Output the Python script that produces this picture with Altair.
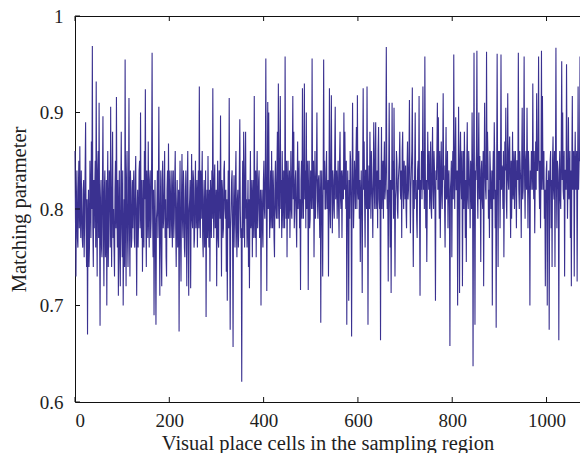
import altair as alt
import numpy as np
import pandas as pd

# Matching parameter.
# match_even: values at even sample positions (spikes / extremes), match_odd: the in-between samples
match_even = [
    0.86, 0.73, 0.84, 0.76, 0.85, 0.865, 0.77, 0.80, 0.76, 0.83, 0.79, 0.89, 0.74, 0.67, 0.82, 0.76, 0.81, 0.87, 0.969, 0.74,
    0.78, 0.85, 0.932, 0.73, 0.86, 0.91, 0.679, 0.83, 0.75, 0.896, 0.72, 0.84, 0.77, 0.70, 0.86, 0.79, 0.83, 0.906, 0.74, 0.88,
    0.80, 0.73, 0.85, 0.916, 0.76, 0.71, 0.84, 0.72, 0.88, 0.75, 0.70, 0.81, 0.955, 0.72, 0.86, 0.74, 0.915, 0.73, 0.82, 0.77,
    0.78, 0.84, 0.76, 0.855, 0.71, 0.82, 0.79, 0.85, 0.90, 0.77, 0.735, 0.83, 0.86, 0.924, 0.74, 0.81, 0.87, 0.76, 0.84, 0.79,
    0.962, 0.75, 0.69, 0.83, 0.68, 0.80, 0.77, 0.906, 0.71, 0.84, 0.72, 0.85, 0.79, 0.86, 0.81, 0.73, 0.84, 0.868, 0.77, 0.82,
    0.80, 0.76, 0.84, 0.79, 0.86, 0.74, 0.83, 0.78, 0.673, 0.85, 0.725, 0.857, 0.77, 0.82, 0.75, 0.84, 0.72, 0.86, 0.71, 0.81,
    0.718, 0.857, 0.78, 0.83, 0.77, 0.85, 0.80, 0.76, 0.84, 0.927, 0.77, 0.79, 0.86, 0.75, 0.83, 0.78, 0.688, 0.82, 0.855, 0.76,
    0.725, 0.81, 0.84, 0.925, 0.77, 0.846, 0.79, 0.72, 0.85, 0.76, 0.83, 0.897, 0.73, 0.82, 0.78, 0.85, 0.79, 0.735, 0.705, 0.84,
    0.915, 0.675, 0.80, 0.84, 0.657, 0.835, 0.76, 0.86, 0.75, 0.82, 0.78, 0.893, 0.77, 0.621, 0.85, 0.88, 0.76, 0.88, 0.81, 0.79,
    0.74, 0.718, 0.86, 0.79, 0.75, 0.83, 0.917, 0.77, 0.75, 0.86, 0.80, 0.84, 0.78, 0.70, 0.82, 0.76, 0.85, 0.79, 0.956, 0.715,
    0.911, 0.90, 0.77, 0.84, 0.86, 0.78, 0.82, 0.75, 0.85, 0.79, 0.88, 0.93, 0.78, 0.917, 0.83, 0.86, 0.78, 0.82, 0.958, 0.79,
    0.75, 0.85, 0.82, 0.77, 0.86, 0.79, 0.917, 0.88, 0.80, 0.84, 0.76, 0.87, 0.82, 0.78, 0.716, 0.85, 0.925, 0.79, 0.93, 0.84,
    0.90, 0.82, 0.716, 0.85, 0.79, 0.83, 0.956, 0.80, 0.75, 0.86, 0.82, 0.90, 0.79, 0.835, 0.77, 0.682, 0.84, 0.73, 0.955, 0.85,
    0.80, 0.86, 0.81, 0.73, 0.925, 0.78, 0.918, 0.775, 0.83, 0.79, 0.906, 0.82, 0.79, 0.85, 0.77, 0.88, 0.80, 0.77, 0.84, 0.90,
    0.88, 0.80, 0.68, 0.84, 0.705, 0.79, 0.85, 0.668, 0.91, 0.78, 0.85, 0.80, 0.885, 0.918, 0.81, 0.79, 0.745, 0.84, 0.713, 0.925,
    0.87, 0.76, 0.84, 0.927, 0.68, 0.845, 0.88, 0.79, 0.83, 0.77, 0.89, 0.80, 0.89, 0.82, 0.78, 0.885, 0.80, 0.664, 0.885, 0.83,
    0.79, 0.87, 0.82, 0.968, 0.80, 0.725, 0.91, 0.76, 0.713, 0.91, 0.85, 0.905, 0.73, 0.82, 0.85, 0.79, 0.84, 0.88, 0.81, 0.77,
    0.88, 0.80, 0.83, 0.845, 0.78, 0.87, 0.82, 0.913, 0.775, 0.84, 0.926, 0.74, 0.80, 0.90, 0.83, 0.77, 0.85, 0.917, 0.71, 0.82,
    0.81, 0.927, 0.86, 0.958, 0.78, 0.745, 0.88, 0.82, 0.80, 0.87, 0.79, 0.885, 0.80, 0.84, 0.705, 0.83, 0.91, 0.895, 0.79, 0.77,
    0.87, 0.80, 0.92, 0.845, 0.76, 0.885, 0.82, 0.78, 0.84, 0.658, 0.83, 0.75, 0.86, 0.96, 0.80, 0.895, 0.82, 0.70, 0.906, 0.713,
    0.88, 0.81, 0.72, 0.86, 0.88, 0.77, 0.745, 0.89, 0.80, 0.84, 0.78, 0.83, 0.90, 0.637, 0.962, 0.68, 0.83, 0.964, 0.79, 0.90,
    0.855, 0.745, 0.85, 0.80, 0.72, 0.91, 0.82, 0.963, 0.88, 0.79, 0.77, 0.84, 0.81, 0.70, 0.86, 0.89, 0.78, 0.677, 0.961, 0.74,
    0.83, 0.78, 0.96, 0.845, 0.80, 0.75, 0.87, 0.905, 0.79, 0.92, 0.82, 0.875, 0.77, 0.79, 0.88, 0.82, 0.80, 0.86, 0.78, 0.85,
    0.962, 0.80, 0.84, 0.77, 0.905, 0.82, 0.958, 0.79, 0.86, 0.905, 0.78, 0.84, 0.70, 0.82, 0.85, 0.93, 0.81, 0.775, 0.87, 0.92,
    0.84, 0.958, 0.80, 0.78, 0.964, 0.917, 0.82, 0.79, 0.72, 0.84, 0.70, 0.81, 0.675, 0.85, 0.78, 0.74, 0.875, 0.81, 0.74, 0.967,
    0.78, 0.84, 0.664, 0.86, 0.80, 0.953, 0.90, 0.81, 0.73, 0.84, 0.95, 0.79, 0.895, 0.82, 0.77, 0.72, 0.917, 0.84, 0.73, 0.88,
    0.84, 0.725, 0.927, 0.85, 0.958, 0.666, 0.905, 0.83, 0.90, 0.80, 0.86, 0.94, 0.88, 0.79, 0.85, 0.82, 0.87, 0.80, 0.84, 0.81,
]
match_odd = [
    0.79, 0.81, 0.77, 0.82, 0.78, 0.80, 0.84, 0.77, 0.82, 0.75, 0.84, 0.78, 0.81, 0.79, 0.74, 0.85, 0.77, 0.80, 0.78, 0.83,
    0.82, 0.76, 0.80, 0.84, 0.77, 0.79, 0.81, 0.76, 0.83, 0.78, 0.82, 0.75, 0.83, 0.81, 0.74, 0.84, 0.76, 0.79, 0.82, 0.77,
    0.76, 0.82, 0.78, 0.80, 0.83, 0.79, 0.75, 0.82, 0.78, 0.84, 0.77, 0.74, 0.80, 0.83, 0.77, 0.81, 0.78, 0.84, 0.76, 0.83,
    0.82, 0.77, 0.83, 0.78, 0.80, 0.76, 0.84, 0.78, 0.80, 0.83, 0.79, 0.76, 0.81, 0.79, 0.84, 0.77, 0.80, 0.83, 0.77, 0.85,
    0.80, 0.82, 0.78, 0.76, 0.79, 0.84, 0.81, 0.79, 0.80, 0.76, 0.83, 0.78, 0.82, 0.77, 0.75, 0.82, 0.78, 0.80, 0.84, 0.77,
    0.84, 0.81, 0.77, 0.83, 0.78, 0.80, 0.76, 0.82, 0.80, 0.77, 0.81, 0.79, 0.84, 0.76, 0.81, 0.78, 0.83, 0.77, 0.80, 0.83,
    0.80, 0.79, 0.84, 0.76, 0.82, 0.78, 0.83, 0.81, 0.78, 0.80, 0.84, 0.82, 0.77, 0.81, 0.76, 0.84, 0.80, 0.77, 0.79, 0.82,
    0.83, 0.77, 0.79, 0.81, 0.83, 0.78, 0.82, 0.80, 0.77, 0.84, 0.79, 0.80, 0.83, 0.77, 0.84, 0.80, 0.82, 0.81, 0.79, 0.78,
    0.79, 0.78, 0.83, 0.77, 0.80, 0.79, 0.83, 0.78, 0.81, 0.76, 0.84, 0.80, 0.78, 0.80, 0.77, 0.81, 0.84, 0.79, 0.76, 0.83,
    0.81, 0.80, 0.78, 0.83, 0.81, 0.77, 0.80, 0.84, 0.82, 0.78, 0.83, 0.77, 0.82, 0.80, 0.78, 0.83, 0.80, 0.84, 0.81, 0.82,
    0.80, 0.82, 0.81, 0.78, 0.80, 0.84, 0.77, 0.83, 0.80, 0.84, 0.79, 0.82, 0.85, 0.80, 0.77, 0.81, 0.84, 0.78, 0.82, 0.85,
    0.82, 0.79, 0.84, 0.81, 0.80, 0.85, 0.81, 0.78, 0.83, 0.79, 0.82, 0.80, 0.85, 0.81, 0.83, 0.79, 0.82, 0.84, 0.81, 0.78,
    0.80, 0.85, 0.81, 0.78, 0.84, 0.80, 0.82, 0.85, 0.81, 0.79, 0.84, 0.81, 0.83, 0.80, 0.84, 0.81, 0.79, 0.83, 0.82, 0.80,
    0.84, 0.80, 0.83, 0.82, 0.80, 0.85, 0.82, 0.84, 0.80, 0.86, 0.81, 0.84, 0.82, 0.80, 0.85, 0.81, 0.84, 0.83, 0.81, 0.82,
    0.83, 0.85, 0.81, 0.79, 0.83, 0.86, 0.80, 0.82, 0.84, 0.81, 0.83, 0.85, 0.80, 0.82, 0.86, 0.83, 0.81, 0.80, 0.84, 0.82,
    0.81, 0.84, 0.80, 0.83, 0.82, 0.80, 0.84, 0.86, 0.81, 0.84, 0.82, 0.86, 0.80, 0.84, 0.86, 0.81, 0.83, 0.82, 0.80, 0.85,
    0.84, 0.81, 0.85, 0.83, 0.82, 0.84, 0.81, 0.83, 0.80, 0.82, 0.79, 0.83, 0.81, 0.86, 0.80, 0.83, 0.85, 0.82, 0.84, 0.86,
    0.82, 0.85, 0.81, 0.80, 0.84, 0.81, 0.85, 0.83, 0.82, 0.86, 0.81, 0.83, 0.85, 0.81, 0.79, 0.84, 0.82, 0.80, 0.83, 0.86,
    0.85, 0.82, 0.80, 0.84, 0.83, 0.81, 0.84, 0.86, 0.82, 0.80, 0.85, 0.82, 0.86, 0.81, 0.84, 0.86, 0.82, 0.83, 0.86, 0.82,
    0.82, 0.85, 0.83, 0.80, 0.84, 0.81, 0.86, 0.83, 0.80, 0.82, 0.85, 0.83, 0.81, 0.84, 0.86, 0.82, 0.84, 0.81, 0.83, 0.85,
    0.83, 0.86, 0.82, 0.80, 0.84, 0.83, 0.85, 0.81, 0.86, 0.82, 0.85, 0.80, 0.84, 0.82, 0.81, 0.84, 0.86, 0.82, 0.85, 0.81,
    0.82, 0.84, 0.81, 0.86, 0.83, 0.84, 0.81, 0.83, 0.85, 0.82, 0.86, 0.80, 0.84, 0.83, 0.81, 0.85, 0.82, 0.84, 0.83, 0.86,
    0.86, 0.83, 0.82, 0.84, 0.86, 0.82, 0.84, 0.81, 0.85, 0.83, 0.86, 0.82, 0.85, 0.83, 0.81, 0.86, 0.84, 0.82, 0.85, 0.83,
    0.82, 0.86, 0.83, 0.85, 0.81, 0.86, 0.83, 0.85, 0.82, 0.84, 0.86, 0.81, 0.84, 0.86, 0.82, 0.84, 0.86, 0.83, 0.82, 0.84,
    0.86, 0.83, 0.85, 0.84, 0.82, 0.84, 0.86, 0.82, 0.81, 0.85, 0.83, 0.84, 0.82, 0.86, 0.83, 0.85, 0.82, 0.86, 0.84, 0.83,
    0.85, 0.82, 0.84, 0.81, 0.86, 0.83, 0.82, 0.86, 0.84, 0.82, 0.85, 0.83, 0.81, 0.86, 0.84, 0.85, 0.82, 0.86, 0.84, 0.82,
    0.86, 0.83, 0.82, 0.85, 0.84, 0.82, 0.86, 0.84, 0.82, 0.85, 0.83, 0.84, 0.86, 0.83, 0.81, 0.85, 0.83, 0.86, 0.82, 0.84,
]
cell_step = 2.044
even_cells = np.arange(len(match_even)) * cell_step
odd_cells = even_cells[: len(match_odd)] + cell_step / 2

x_ticks = [0, 200, 400, 600, 800, 1000]
y_ticks = [0.6, 0.7, 0.8, 0.9, 1.0]
x_title = "Visual place cells in the sampling region"
y_title = "Matching parameter"

W, H = 505, 386          # plot area; the chart ends at the window edge
X_MAX = 1071             # last visible cell at this width
FONT = "Liberation Serif"
INK = "#111111"
LINE = "#3a3190"

xs = alt.Scale(domain=[0, X_MAX], nice=False, zero=False)
ys = alt.Scale(domain=[0.6, 1.0], nice=False, zero=False)

xaxis = alt.Axis(
    values=x_ticks, format="d", title=x_title, ticks=False, domain=False,
    grid=False, labelPadding=9, titlePadding=3)
yaxis = alt.Axis(
    values=y_ticks, format="~g", title=y_title, ticks=False, domain=False,
    grid=False, labelPadding=12, titlePadding=10)

df = pd.DataFrame({
    "cell": np.concatenate([even_cells, odd_cells]),
    "match": np.concatenate([match_even, match_odd]),
}).sort_values("cell")
df = df[df["cell"] <= X_MAX + 3]
xt = pd.DataFrame({"xt": x_ticks})
yt = pd.DataFrame({"yt": y_ticks})

line = alt.Chart(df).mark_line(color=LINE, strokeWidth=1.1).encode(
    x=alt.X("cell:Q", scale=xs, axis=xaxis),
    y=alt.Y("match:Q", scale=ys, axis=yaxis),
    order="cell:Q")

# inward tick marks
bottom_ticks = alt.Chart(xt).mark_tick(
    color=INK, orient="vertical", size=5, thickness=1, opacity=1).encode(
    x=alt.X("xt:Q", scale=xs, axis=None), y=alt.value(H - 2.5))
top_ticks = alt.Chart(xt).mark_tick(
    color=INK, orient="vertical", size=5, thickness=1, opacity=1).encode(
    x=alt.X("xt:Q", scale=xs, axis=None), y=alt.value(2.5))
left_ticks = alt.Chart(yt).mark_tick(
    color=INK, orient="horizontal", size=5, thickness=1, opacity=1).encode(
    y=alt.Y("yt:Q", scale=ys, axis=None), x=alt.value(2.5))

chart = alt.layer(
    line, bottom_ticks, top_ticks, left_ticks
).resolve_axis(x="independent", y="independent").properties(
    width=W, height=H,
    autosize=alt.AutoSizeParams(type="none"),
    padding={"left": 67, "top": 8, "right": 0, "bottom": 51},
).configure_view(
    stroke=INK, strokeWidth=1, fill="white"
).configure_axis(
    labelFont=FONT, titleFont=FONT, labelFontSize=19, titleFontSize=20.5,
    labelColor="#1e1e1e", titleColor="#1e1e1e", titleFontWeight="normal",
)

chart.save("out.html", embed_options={"renderer": "svg", "actions": False})
